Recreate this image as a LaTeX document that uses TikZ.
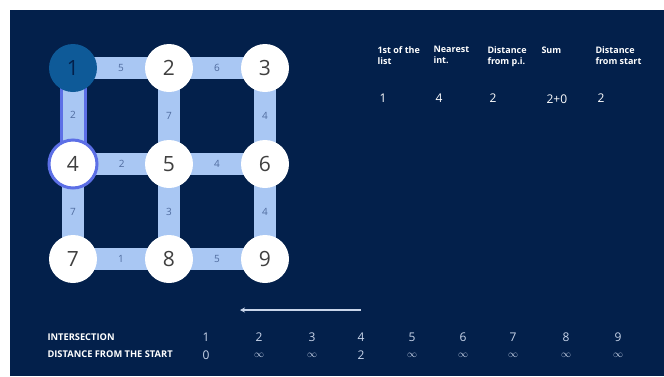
\documentclass[tikz,border=0pt]{standalone}
\usepackage{fontspec}
\setmainfont{Open Sans}
\usetikzlibrary{arrows.meta}
\definecolor{bgnavy}{HTML}{03204B}
\definecolor{roadblue}{HTML}{A9C7F3}
\definecolor{startblue}{HTML}{0E5A98}
\definecolor{markblue}{HTML}{5C6FE6}
\definecolor{weightgray}{HTML}{4F6B9E}
\definecolor{rowgray}{HTML}{C9D5EA}
\pgfdeclarelayer{backdrop}
\pgfdeclarelayer{roads}
\pgfsetlayers{backdrop,roads,main}
\newcommand{\nodist}{{\fontsize{10}{10}\selectfont$\infty$}}

\begin{document}
\begin{tikzpicture}[x=1pt, y=-1pt,
  inter/.style={circle, fill=white, minimum size=48pt, inner sep=0pt,
                font=\fontsize{21}{21}\selectfont, text=black!75},
  road/.style={line width=22pt, roadblue},
  weight/.style={font=\fontsize{10}{10}\selectfont, text=weightgray},
  head/.style={anchor=north west, align=left, text=white,
               font=\fontsize{9}{11}\selectfont\bfseries},
  val/.style={text=white, font=\fontsize{12}{12}\selectfont},
  rowlabel/.style={anchor=west, text=white, font=\fontsize{9.3}{9.3}\selectfont\bfseries},
  rowval/.style={text=rowgray, font=\fontsize{12}{12}\selectfont},
]
\useasboundingbox (0,0) rectangle (664,376);
\begin{pgfonlayer}{backdrop}
\fill[bgnavy] (10,10) rectangle (664,376);
\end{pgfonlayer}

% intersections
\node[inter, fill=startblue, text=bgnavy] (n1) at (73,68)  {1};
\node[inter] (n2) at (169,68)  {2};
\node[inter] (n3) at (265,68)  {3};
\node[inter, draw=markblue, line width=3pt] (n4) at (73,164) {4};
\node[inter] (n5) at (169,164) {5};
\node[inter] (n6) at (265,164) {6};
\node[inter] (n7) at (73,259)  {7};
\node[inter] (n8) at (169,259) {8};
\node[inter] (n9) at (265,259) {9};

% roads, under the circles
\begin{pgfonlayer}{roads}
\draw[line width=27pt, markblue] (n1.center) -- (n4.center);
\draw[line width=21pt, roadblue] (n1.center) -- (n4.center);
\draw[road] (n1.center) -- (n2.center);
\draw[road] (n2.center) -- (n3.center);
\draw[road] (n2.center) -- (n5.center);
\draw[road] (n3.center) -- (n6.center);
\draw[road] (n4.center) -- (n5.center);
\draw[road] (n5.center) -- (n6.center);
\draw[road] (n4.center) -- (n7.center);
\draw[road] (n5.center) -- (n8.center);
\draw[road] (n6.center) -- (n9.center);
\draw[road] (n7.center) -- (n8.center);
\draw[road] (n8.center) -- (n9.center);
\end{pgfonlayer}

% weights
\path (n1) -- node[weight] {5} (n2);
\path (n2) -- node[weight] {6} (n3);
\path (n1) -- node[weight] {2} (n4);
\path (n2) -- node[weight] {7} (n5);
\path (n3) -- node[weight] {4} (n6);
\path (n4) -- node[weight] {2} (n5);
\path (n5) -- node[weight] {4} (n6);
\path (n4) -- node[weight] {7} (n7);
\path (n5) -- node[weight] {3} (n8);
\path (n6) -- node[weight] {4} (n9);
\path (n7) -- node[weight] {1} (n8);
\path (n8) -- node[weight] {5} (n9);

% step table
\node[head] (hfirst) at (374,43) {1st of the\\list};
\node[head] (hnear)  at (430,43) {Nearest\\int.};
\node[head] (hdist)  at (484,43) {Distance\\from p.i.};
\node[head] (hsum)   at (538,43) {Sum};
\node[head] (hstart) at (592,43) {Distance\\from start};
\node[val, anchor=west] (vfirst) at (376,98) {1};
\node[val, anchor=west] (vnear)  at (432,98) {4};
\node[val, anchor=west] (vdist)  at (486,98) {2};
\node[val, anchor=west] (vsum)   at (543,99) {2+0};
\node[val, anchor=west] (vstart) at (594,98) {2};

% arrow
\coordinate (afrom) at (361,310);
\coordinate (ato)   at (240,310);
\draw[rowgray, line width=1.5pt, -{Stealth[length=5pt,width=5pt]}] (afrom) -- (ato);

% distance row
\node[rowlabel] (linter) at (44,337) {INTERSECTION};
\node[rowlabel] (ldist)  at (44,354) {DISTANCE FROM THE START};
\foreach \i/\x/\d in {1/206/0, 2/259/\nodist, 3/312/\nodist, 4/361/2,
                      5/412/\nodist, 6/463/\nodist, 7/513/\nodist,
                      8/566/\nodist, 9/618/\nodist}{
  \node[rowval] (i\i) at (\x,337) {\i};
  \node[rowval] (d\i) at (\x,355) {\d};
}
\end{tikzpicture}
\end{document}
